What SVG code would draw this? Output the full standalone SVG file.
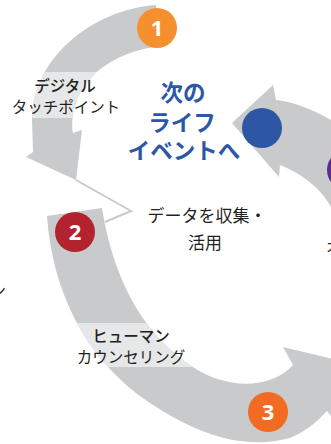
<svg xmlns="http://www.w3.org/2000/svg" width="331" height="444" viewBox="0 0 331 444">
<defs>
<style>
.arc{fill:#c9cacc}
.band{fill:#e6e7e8}
.lbl{font-family:"Noto Sans CJK JP","Noto Sans",sans-serif;fill:#231f20;text-anchor:middle}
.blue{font-family:"Noto Sans CJK JP","Noto Sans",sans-serif;fill:#2c56a6;font-weight:700;font-size:22.5px;text-anchor:middle}
.num{font-family:"Open Sans","Liberation Sans",sans-serif;fill:#fff;font-weight:700;font-size:22px;text-anchor:middle}
.conn{fill:none;stroke:#c9cacc;stroke-width:2}
</style>
<clipPath id="c1"><path d="M156,5 C90,10 32,60 32,120 L33,152 L26,157 L76,180 L82,130 L73,133 C68,95 95,55 160,46 Z"/></clipPath>
<clipPath id="c2"><path d="M47,216 C52,290 85,360 150,403 C200,436 245,450 290,438 Q310,430 327,411 L350,440 L380,370 L283,347 L293,365 C270,390 225,390 190,365 C150,338 115,290 102,208 Z"/></clipPath>
</defs>
<g id="arc1">
<path class="arc" d="M156,5 C90,10 32,60 32,120 L33,152 L26,157 L76,180 L82,130 L73,133 C68,95 95,55 160,46 Z"/>
<rect class="band" x="0" y="72" width="170" height="46" clip-path="url(#c1)"/>
</g>
<g id="arc2">
<path class="arc" d="M47,216 C52,290 85,360 150,403 C200,436 245,450 290,438 Q310,430 327,411 L350,440 L380,370 L283,347 L293,365 C270,390 225,390 190,365 C150,338 115,290 102,208 Z"/>
<rect class="band" x="0" y="323" width="200" height="44" clip-path="url(#c2)"/>
</g>
<g id="arc4">
<path class="arc" d="M232,123 L273,85 L276,100 C295,102 315,110 345,128 L345,225 L331,207 C322,190 303,174 280,165 L279,177 Z"/>
</g>
<g id="connectors">
<polyline class="conn" points="76,180 131,211 105,222"/>
</g>
<g id="n1"><circle cx="157" cy="28" r="20" fill="#f6902f"/><text class="num" x="157" y="36">1</text></g>
<g id="n2"><circle cx="75" cy="232" r="20" fill="#b2232f"/><text class="num" x="75" y="240">2</text></g>
<g id="n3"><circle cx="268" cy="412" r="20" fill="#f26b22"/><text class="num" x="268" y="420">3</text></g>
<g id="n4"><circle cx="262" cy="128" r="20" fill="#2d56a5"/></g>
<g id="n5"><circle cx="347" cy="170" r="20" fill="#5a2e8f"/></g>
<g id="t1">
<text class="lbl" x="65" y="92" font-size="15.5" font-weight="500">デジタル</text>
<text class="lbl" x="66" y="113" font-size="15.5">タッチポイント</text>
</g>
<g id="t2">
<text class="lbl" x="131" y="342" font-size="15.5" font-weight="500">ヒューマン</text>
<text class="lbl" x="131" y="363" font-size="15.5">カウンセリング</text>
</g>
<g id="t3">
<text class="lbl" x="207" y="222" font-size="17">データを収集・</text>
<text class="lbl" x="205" y="249" font-size="17">活用</text>
</g>
<g id="t4">
<text class="blue" x="183" y="101">次の</text>
<text class="blue" x="182" y="131">ライフ</text>
<text class="blue" x="184" y="159">イベントへ</text>
</g>
<g id="edge">
<text class="lbl" x="326" y="253" font-size="16" style="text-anchor:start">オ</text>
<text class="lbl" x="6" y="297" font-size="16" style="text-anchor:end">ン</text>
</g>
</svg>
